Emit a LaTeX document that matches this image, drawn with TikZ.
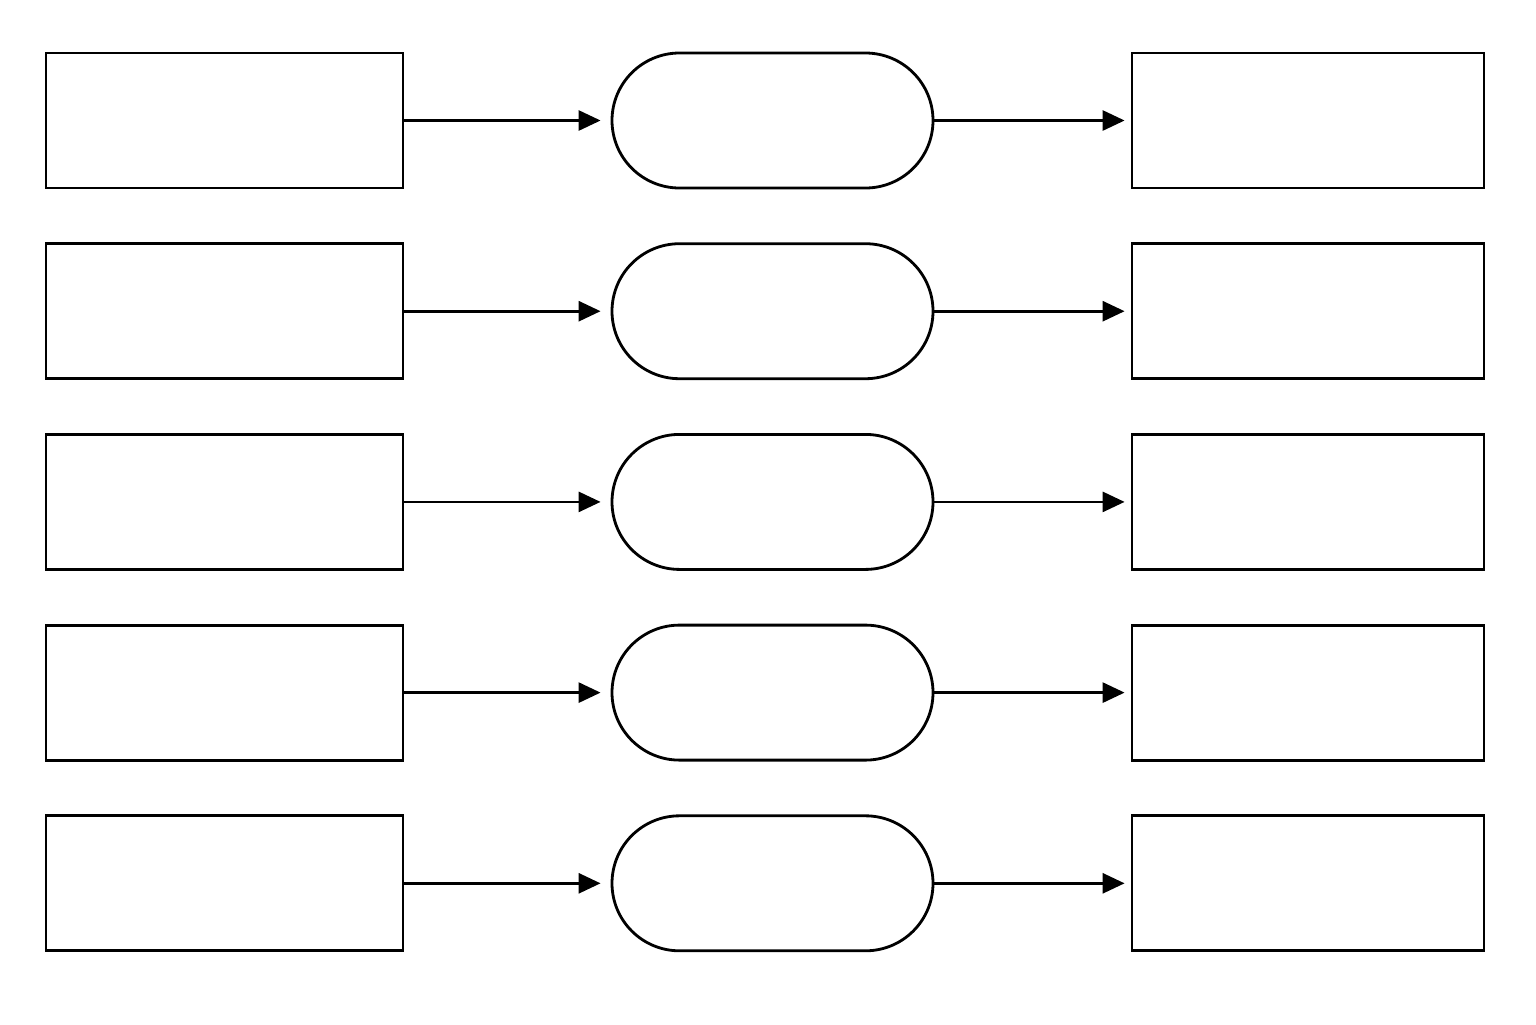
\documentclass[tikz,border=0pt]{standalone}
\usetikzlibrary{positioning, shapes.misc, arrows.meta}

\begin{document}
\begin{tikzpicture}[
  inbox/.style={rectangle, draw, line width=0.8pt, minimum width=3.57cm, minimum height=1.35cm, inner sep=0pt},
  outbox/.style={rectangle, draw, line width=0.8pt, minimum width=3.52cm, minimum height=1.35cm, inner sep=0pt},
  stage/.style={rounded rectangle, draw, line width=0.8pt, minimum width=3.21cm, minimum height=1.35cm, inner sep=0pt},
  arrow/.style={-{Triangle[length=0.22cm, width=0.2cm]}, line width=0.8pt}
]
\useasboundingbox (0,0) rectangle (15.36,-10.24);

% Rows of input, process and output
\foreach \i in {1,...,5} {
  \node[inbox]  (in\i)  at (2.245, {-1.205-(\i-1)*1.907}) {};
  \node[stage]  (mid\i) at (7.725, {-1.205-(\i-1)*1.907}) {};
  \node[outbox] (out\i) at (13.08, {-1.205-(\i-1)*1.907}) {};
  \draw[arrow, shorten >=0.1cm] (in\i.east) -- (mid\i.west);
  \draw[arrow, shorten >=0.06cm] (mid\i.east) -- (out\i.west);
}

\end{tikzpicture}
\end{document}
